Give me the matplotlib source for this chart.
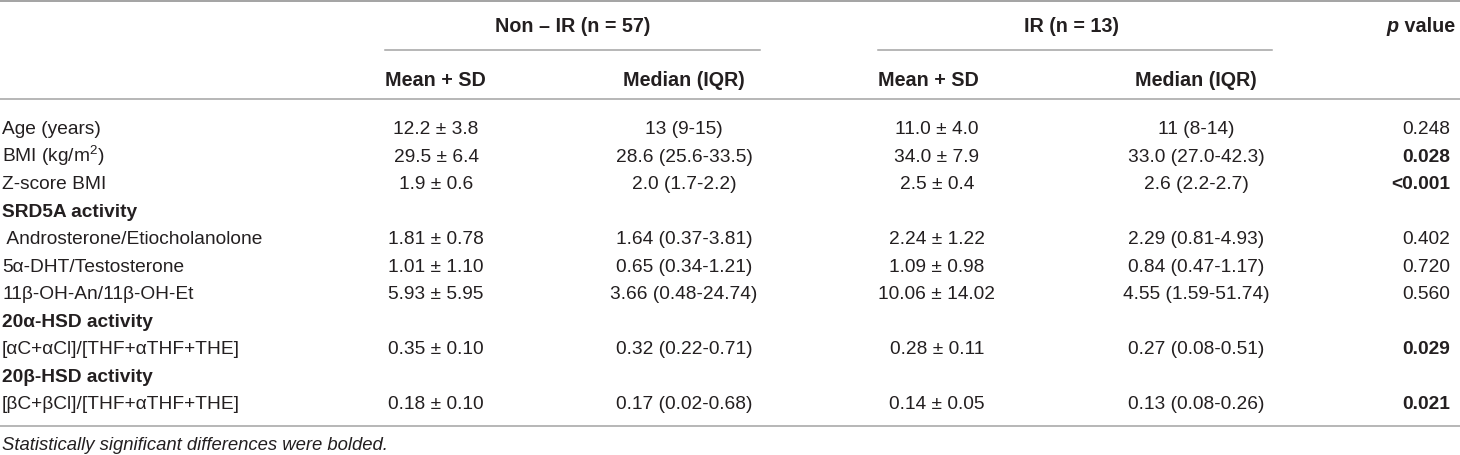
import matplotlib
matplotlib.use("Agg")
import matplotlib.pyplot as plt

plt.rcParams['font.family'] = ['Liberation Sans', 'DejaVu Sans']
plt.rcParams['mathtext.fontset'] = 'custom'
plt.rcParams['mathtext.rm'] = 'Liberation Sans'
plt.rcParams['mathtext.it'] = 'Liberation Sans:italic'
plt.rcParams['mathtext.bf'] = 'Liberation Sans:bold'

# table content
group_titles = ["Non \u2013 IR (n = 57)", "IR (n = 13)"]
sub_titles = ["Mean + SD", "Median (IQR)"]

row_labels = ["Age (years)", "BMI (kg/m$^2$)", "Z-score BMI", "SRD5A activity",
              " Androsterone/Etiocholanolone", "5\u03b1-DHT/Testosterone",
              "11\u03b2-OH-An/11\u03b2-OH-Et", "20\u03b1-HSD activity",
              "[\u03b1C+\u03b1Cl]/[THF+\u03b1THF+THE]", "20\u03b2-HSD activity",
              "[\u03b2C+\u03b2Cl]/[THF+\u03b1THF+THE]"]
section_rows = [False, False, False, True, False, False, False, True, False, True, False]

nonir_mean = ["12.2 \u00b1 3.8", "29.5 \u00b1 6.4", "1.9 \u00b1 0.6", "",
              "1.81 \u00b1 0.78", "1.01 \u00b1 1.10", "5.93 \u00b1 5.95", "",
              "0.35 \u00b1 0.10", "", "0.18 \u00b1 0.10"]
nonir_median = ["13 (9-15)", "28.6 (25.6-33.5)", "2.0 (1.7-2.2)", "",
                "1.64 (0.37-3.81)", "0.65 (0.34-1.21)", "3.66 (0.48-24.74)", "",
                "0.32 (0.22-0.71)", "", "0.17 (0.02-0.68)"]
ir_mean = ["11.0 \u00b1 4.0", "34.0 \u00b1 7.9", "2.5 \u00b1 0.4", "",
           "2.24 \u00b1 1.22", "1.09 \u00b1 0.98", "10.06 \u00b1 14.02", "",
           "0.28 \u00b1 0.11", "", "0.14 \u00b1 0.05"]
ir_median = ["11 (8-14)", "33.0 (27.0-42.3)", "2.6 (2.2-2.7)", "",
             "2.29 (0.81-4.93)", "0.84 (0.47-1.17)", "4.55 (1.59-51.74)", "",
             "0.27 (0.08-0.51)", "", "0.13 (0.08-0.26)"]
p_values = ["0.248", "0.028", "<0.001", "", "0.402", "0.720", "0.560", "",
            "0.029", "", "0.021"]
p_significant = [False, True, True, False, False, False, False, False, True, False, True]

footnote = "Statistically significant differences were bolded."

# layout (pixel coordinates)
W, H = 1460, 456
fig = plt.figure(figsize=(W / 100, H / 100), dpi=100)
ax = fig.add_axes([0, 0, 1, 1])
ax.set_xlim(0, W)
ax.set_ylim(H, 0)
ax.axis('off')

text_col = '#231f20'
line_col = '#a3a3a3'
body_fs = 13.8
head_fs = 14.2

# horizontal rules
ax.plot([0, W], [1.5, 1.5], color=line_col, lw=1.4)
ax.plot([385, 760], [51, 51], color=line_col, lw=1.1)
ax.plot([878, 1272], [51, 51], color=line_col, lw=1.1)
ax.plot([0, W], [100, 100], color=line_col, lw=1.1)
ax.plot([0, W], [427, 427], color=line_col, lw=1.1)

# headers
group_x = [573, 1071]
mean_left = [385, 878]
median_center = [684, 1196]
for gx, title in zip(group_x, group_titles):
    ax.text(gx, 31.5, title, ha='center', va='baseline', fontsize=head_fs,
            fontweight='bold', color=text_col)
for ml, mc in zip(mean_left, median_center):
    ax.text(ml, 86.5, sub_titles[0], ha='left', va='baseline', fontsize=head_fs,
            fontweight='bold', color=text_col)
    ax.text(mc, 86.5, sub_titles[1], ha='center', va='baseline', fontsize=head_fs,
            fontweight='bold', color=text_col)

t_val = ax.text(1455, 31.5, " value", ha='right', va='baseline', fontsize=head_fs,
                fontweight='bold', color=text_col)
fig.canvas.draw()
bb = t_val.get_window_extent(fig.canvas.get_renderer())
ax.text(bb.x0, 31.5, "p", ha='right', va='baseline', fontsize=head_fs,
        fontweight='bold', fontstyle='italic', color=text_col)

# body rows
row0, row_step = 128, 27.5
mean_center = [436, 937]
p_right = 1450
for i, label in enumerate(row_labels):
    yb = row0 + i * row_step + 6.5
    ax.text(2, yb, label, ha='left', va='baseline', fontsize=body_fs, color=text_col,
            fontweight='bold' if section_rows[i] else 'normal')
    for mc, vals in zip(mean_center, [nonir_mean, ir_mean]):
        ax.text(mc, yb, vals[i], ha='center', va='baseline', fontsize=body_fs, color=text_col)
    for mc, vals in zip(median_center, [nonir_median, ir_median]):
        ax.text(mc, yb, vals[i], ha='center', va='baseline', fontsize=body_fs, color=text_col)
    ax.text(p_right, yb, p_values[i], ha='right', va='baseline', fontsize=body_fs,
            color=text_col, fontweight='bold' if p_significant[i] else 'normal')

ax.text(2, 450.5, footnote, ha='left', va='baseline', fontsize=13.3, fontstyle='italic',
        color=text_col)

fig.savefig('out.png', dpi=100)
